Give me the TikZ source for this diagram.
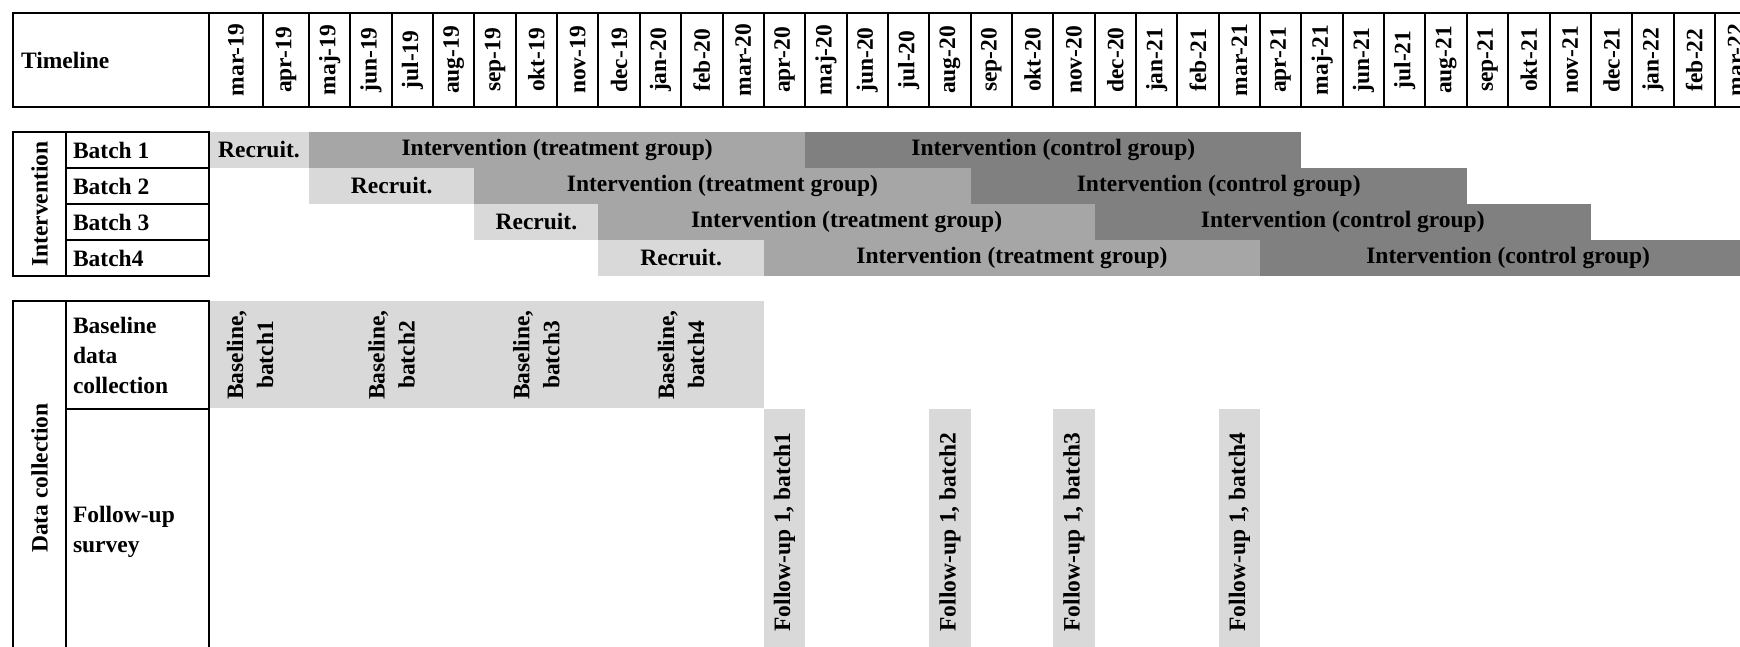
\documentclass[tikz,border=0pt]{standalone}
\usepackage{fontspec}
\setmainfont{Liberation Serif}

\definecolor{recgray}{HTML}{D9D9D9}
\definecolor{treatgray}{HTML}{A6A6A6}
\definecolor{ctrlgray}{HTML}{808080}

\tikzset{every picture/.style={line width=1pt}}
\tikzset{
  cell/.style={font=\bfseries\fontsize{11.75}{15}\selectfont, inner sep=0pt},
  month/.style={cell, rotate=90},
  rowlbl/.style={cell, anchor=west, align=left},
}

\begin{document}
\begin{tikzpicture}[x=0.5pt,y=0.5pt,yscale=-1]
\useasboundingbox (0,0) rectangle (1740,647);
\clip (0,0) rectangle (1740,647);

\fill [recgray] (209,132) rectangle (309,168);
\fill [treatgray] (309,132) rectangle (805.2,168);
\fill [ctrlgray] (805.2,132) rectangle (1301.4,168);
\fill [recgray] (309,168) rectangle (474.4,204);
\fill [treatgray] (474.4,168) rectangle (970.6,204);
\fill [ctrlgray] (970.6,168) rectangle (1466.8,204);
\fill [recgray] (474.4,204) rectangle (598.45,240);
\fill [treatgray] (598.45,204) rectangle (1094.65,240);
\fill [ctrlgray] (1094.65,204) rectangle (1590.85,240);
\fill [recgray] (598.45,240) rectangle (763.85,276);
\fill [treatgray] (763.85,240) rectangle (1260.05,276);
\fill [ctrlgray] (1260.05,240) rectangle (1756.25,276);

\fill [recgray] (209,301) rectangle (763.85,408);
\fill [recgray] (763.85,409) rectangle (805.2,660);
\fill [recgray] (929.25,409) rectangle (970.6,660);
\fill [recgray] (1053.3,409) rectangle (1094.65,660);
\fill [recgray] (1218.7,409) rectangle (1260.05,660);

\draw (13,13) rectangle (1760,107);
\draw (209,13) -- (209,107) (263,13) -- (263,107) (309,13) -- (309,107) (350.35,13) -- (350.35,107)
      (391.7,13) -- (391.7,107) (433.05,13) -- (433.05,107) (474.4,13) -- (474.4,107) (515.75,13) -- (515.75,107)
      (557.1,13) -- (557.1,107) (598.45,13) -- (598.45,107) (639.8,13) -- (639.8,107) (681.15,13) -- (681.15,107)
      (722.5,13) -- (722.5,107) (763.85,13) -- (763.85,107) (805.2,13) -- (805.2,107) (846.55,13) -- (846.55,107)
      (887.9,13) -- (887.9,107) (929.25,13) -- (929.25,107) (970.6,13) -- (970.6,107) (1011.95,13) -- (1011.95,107)
      (1053.3,13) -- (1053.3,107) (1094.65,13) -- (1094.65,107) (1136,13) -- (1136,107) (1177.35,13) -- (1177.35,107)
      (1218.7,13) -- (1218.7,107) (1260.05,13) -- (1260.05,107) (1301.4,13) -- (1301.4,107) (1342.75,13) -- (1342.75,107)
      (1384.1,13) -- (1384.1,107) (1425.45,13) -- (1425.45,107) (1466.8,13) -- (1466.8,107) (1508.15,13) -- (1508.15,107)
      (1549.5,13) -- (1549.5,107) (1590.85,13) -- (1590.85,107) (1632.2,13) -- (1632.2,107) (1673.55,13) -- (1673.55,107)
      (1714.9,13) -- (1714.9,107);

\draw (13,132) rectangle (209,276);
\draw (66,132) -- (66,276);
\draw (66,168) -- (209,168) (66,204) -- (209,204) (66,240) -- (209,240);

\draw (13,301) rectangle (209,655);
\draw (66,301) -- (66,655);
\draw (66,409) -- (209,409);

\draw (20,60) node (tl) [rowlbl] {Timeline};
\draw (236,60) node (m01) [month] {mar-19};
\draw (286,60) node (m02) [month] {apr-19};
\draw (329.7,60) node (m03) [month] {maj-19};
\draw (371.0,60) node (m04) [month] {jun-19};
\draw (412.4,60) node (m05) [month] {jul-19};
\draw (453.7,60) node (m06) [month] {aug-19};
\draw (495.1,60) node (m07) [month] {sep-19};
\draw (536.4,60) node (m08) [month] {okt-19};
\draw (577.8,60) node (m09) [month] {nov-19};
\draw (619.1,60) node (m10) [month] {dec-19};
\draw (660.5,60) node (m11) [month] {jan-20};
\draw (701.8,60) node (m12) [month] {feb-20};
\draw (743.2,60) node (m13) [month] {mar-20};
\draw (784.5,60) node (m14) [month] {apr-20};
\draw (825.9,60) node (m15) [month] {maj-20};
\draw (867.2,60) node (m16) [month] {jun-20};
\draw (908.6,60) node (m17) [month] {jul-20};
\draw (949.9,60) node (m18) [month] {aug-20};
\draw (991.3,60) node (m19) [month] {sep-20};
\draw (1032.6,60) node (m20) [month] {okt-20};
\draw (1074.0,60) node (m21) [month] {nov-20};
\draw (1115.3,60) node (m22) [month] {dec-20};
\draw (1156.7,60) node (m23) [month] {jan-21};
\draw (1198.0,60) node (m24) [month] {feb-21};
\draw (1239.4,60) node (m25) [month] {mar-21};
\draw (1280.7,60) node (m26) [month] {apr-21};
\draw (1322.1,60) node (m27) [month] {maj-21};
\draw (1363.4,60) node (m28) [month] {jun-21};
\draw (1404.8,60) node (m29) [month] {jul-21};
\draw (1446.1,60) node (m30) [month] {aug-21};
\draw (1487.5,60) node (m31) [month] {sep-21};
\draw (1528.8,60) node (m32) [month] {okt-21};
\draw (1570.2,60) node (m33) [month] {nov-21};
\draw (1611.5,60) node (m34) [month] {dec-21};
\draw (1652.9,60) node (m35) [month] {jan-22};
\draw (1694.2,60) node (m36) [month] {feb-22};
\draw (1735.6,60) node (m37) [month] {mar-22};

\draw (39.5,204) node (intlbl) [month] {Intervention};
\draw (72,150) node (b1) [rowlbl] {Batch 1};
\draw (72,186) node (b2) [rowlbl] {Batch 2};
\draw (72,222) node (b3) [rowlbl] {Batch 3};
\draw (72,258) node (b4) [rowlbl] {Batch4};

\draw (259,150) node (b1rec) [cell] {Recruit.};
\draw (557.1,150) node (b1trt) [cell] {Intervention (treatment group)};
\draw (1053.3,150) node (b1ctl) [cell] {Intervention (control group)};
\draw (391.7,186) node (b2rec) [cell] {Recruit.};
\draw (722.5,186) node (b2trt) [cell] {Intervention (treatment group)};
\draw (1218.7,186) node (b2ctl) [cell] {Intervention (control group)};
\draw (536.4,222) node (b3rec) [cell] {Recruit.};
\draw (846.55,222) node (b3trt) [cell] {Intervention (treatment group)};
\draw (1342.75,222) node (b3ctl) [cell] {Intervention (control group)};
\draw (681.15,258) node (b4rec) [cell] {Recruit.};
\draw (1011.95,258) node (b4trt) [cell] {Intervention (treatment group)};
\draw (1508.15,258) node (b4ctl) [cell] {Intervention (control group)};

\draw (39.5,478) node (dclbl) [month] {Data collection};
\draw (72,355) node (bllbl) [rowlbl] {Baseline\\data\\collection};
\draw (72,532) node (fulbl) [rowlbl] {Follow-up\\survey};

\draw (250,355) node (bl1) [month, align=center] {Baseline,\\batch1};
\draw (391.7,355) node (bl2) [month, align=center] {Baseline,\\batch2};
\draw (536.4,355) node (bl3) [month, align=center] {Baseline,\\batch3};
\draw (681.15,355) node (bl4) [month, align=center] {Baseline,\\batch4};

\draw (784.5,532) node (fu1) [month] {Follow-up 1, batch1};
\draw (949.9,532) node (fu2) [month] {Follow-up 1, batch2};
\draw (1074.0,532) node (fu3) [month] {Follow-up 1, batch3};
\draw (1239.4,532) node (fu4) [month] {Follow-up 1, batch4};

\end{tikzpicture}
\end{document}
